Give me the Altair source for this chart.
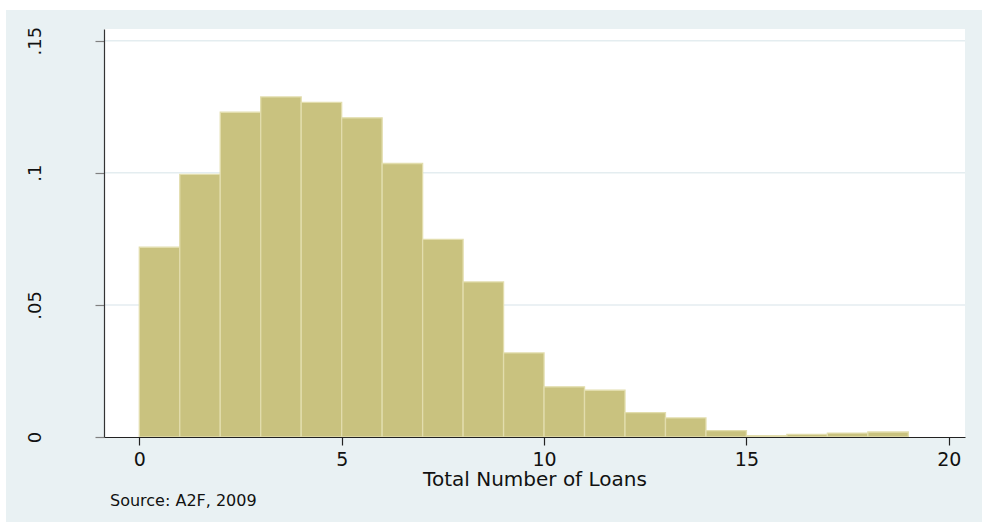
import altair as alt
import pandas as pd

# Histogram bins (Total Number of Loans) and their densities
bin_start = list(range(0, 19))
bin_end = list(range(1, 20))
density = [0.0718, 0.0994, 0.1229, 0.1287, 0.1266, 0.1208, 0.1035, 0.0748, 0.0587,
           0.0318, 0.0190, 0.0177, 0.0092, 0.0072, 0.0024, 0.0005, 0.0010, 0.0015, 0.0019]

x_ticks = [0, 5, 10, 15, 20]
y_ticks = [0, 0.05, 0.1, 0.15]
grid_values = [0.05, 0.1, 0.15]

x_title = "Total Number of Loans"
source_note = "Source: A2F, 2009"

W, H = 861, 408
BG = "#E9F1F3"
FONT = "DejaVu Sans"

bars_df = pd.DataFrame({"start": bin_start, "end": bin_end, "density": density})
grid_df = pd.DataFrame({"g": grid_values})
one = pd.DataFrame({"a": [0]})

x_scale = alt.Scale(domain=[-0.872, 20.40], nice=False, zero=False)
y_scale = alt.Scale(domain=[0, 0.1544], nice=False)

x_axis = alt.Axis(values=x_ticks, format="d", title=x_title, grid=False,
                  domainColor="#222222", domainWidth=1.2, tickColor="#222222",
                  tickSize=8, tickWidth=1.2, labelFont=FONT, labelFontSize=19,
                  labelColor="#111111", labelBaseline="alphabetic", labelPadding=20,
                  labelFlush=False,
                  titleFont=FONT, titleFontSize=20, titleFontWeight="normal",
                  titleColor="#111111", titleBaseline="alphabetic", titleY=48,
                  zindex=1)
y_axis = alt.Axis(values=y_ticks, title=None, grid=False,
                  labelExpr="datum.value == 0 ? '0' : replace(format(datum.value, '.2~f'), '0.', '.')",
                  domainColor="#333333", domainWidth=1.2, tickColor="#808080",
                  tickSize=9, tickWidth=1.2, labelFont=FONT, labelFontSize=18,
                  labelColor="#111111", labelAngle=270, labelAlign="center",
                  labelBaseline="alphabetic", labelPadding=55, labelFlush=False,
                  zindex=1)

frame = alt.Chart(one).mark_rect(color=BG).encode(
    x=alt.value(-98), x2=alt.value(878), y=alt.value(-19), y2=alt.value(493))
plot_bg = alt.Chart(one).mark_rect(color="white").encode(
    x=alt.value(0), x2=alt.value(W), y=alt.value(0), y2=alt.value(H))

grid = alt.Chart(grid_df).mark_rule(color="#E4EDF0", strokeWidth=1.5).encode(
    y=alt.Y("g:Q", scale=y_scale, axis=y_axis))

bars = alt.Chart(bars_df).mark_rect(color="#C9C27F", stroke="#E2DDAD", strokeWidth=1.3).encode(
    x=alt.X("start:Q", scale=x_scale, axis=x_axis),
    x2="end:Q",
    y=alt.Y("density:Q", scale=y_scale, axis=y_axis),
    y2=alt.datum(0),
)

note = alt.Chart(one).mark_text(align="left", baseline="alphabetic", font=FONT,
                                fontSize=16, color="#111111").encode(
    x=alt.value(6), y=alt.value(477), text=alt.value(source_note))

chart = alt.layer(frame, plot_bg, grid, bars, note).properties(
    width=W, height=H,
    autosize=alt.AutoSizeParams(type="none"),
    padding={"left": 104, "top": 29, "right": 17, "bottom": 85},
    background="white",
).configure_view(stroke=None, fill="white")

chart.save("out.html", embed_options={"renderer": "svg", "actions": False})
